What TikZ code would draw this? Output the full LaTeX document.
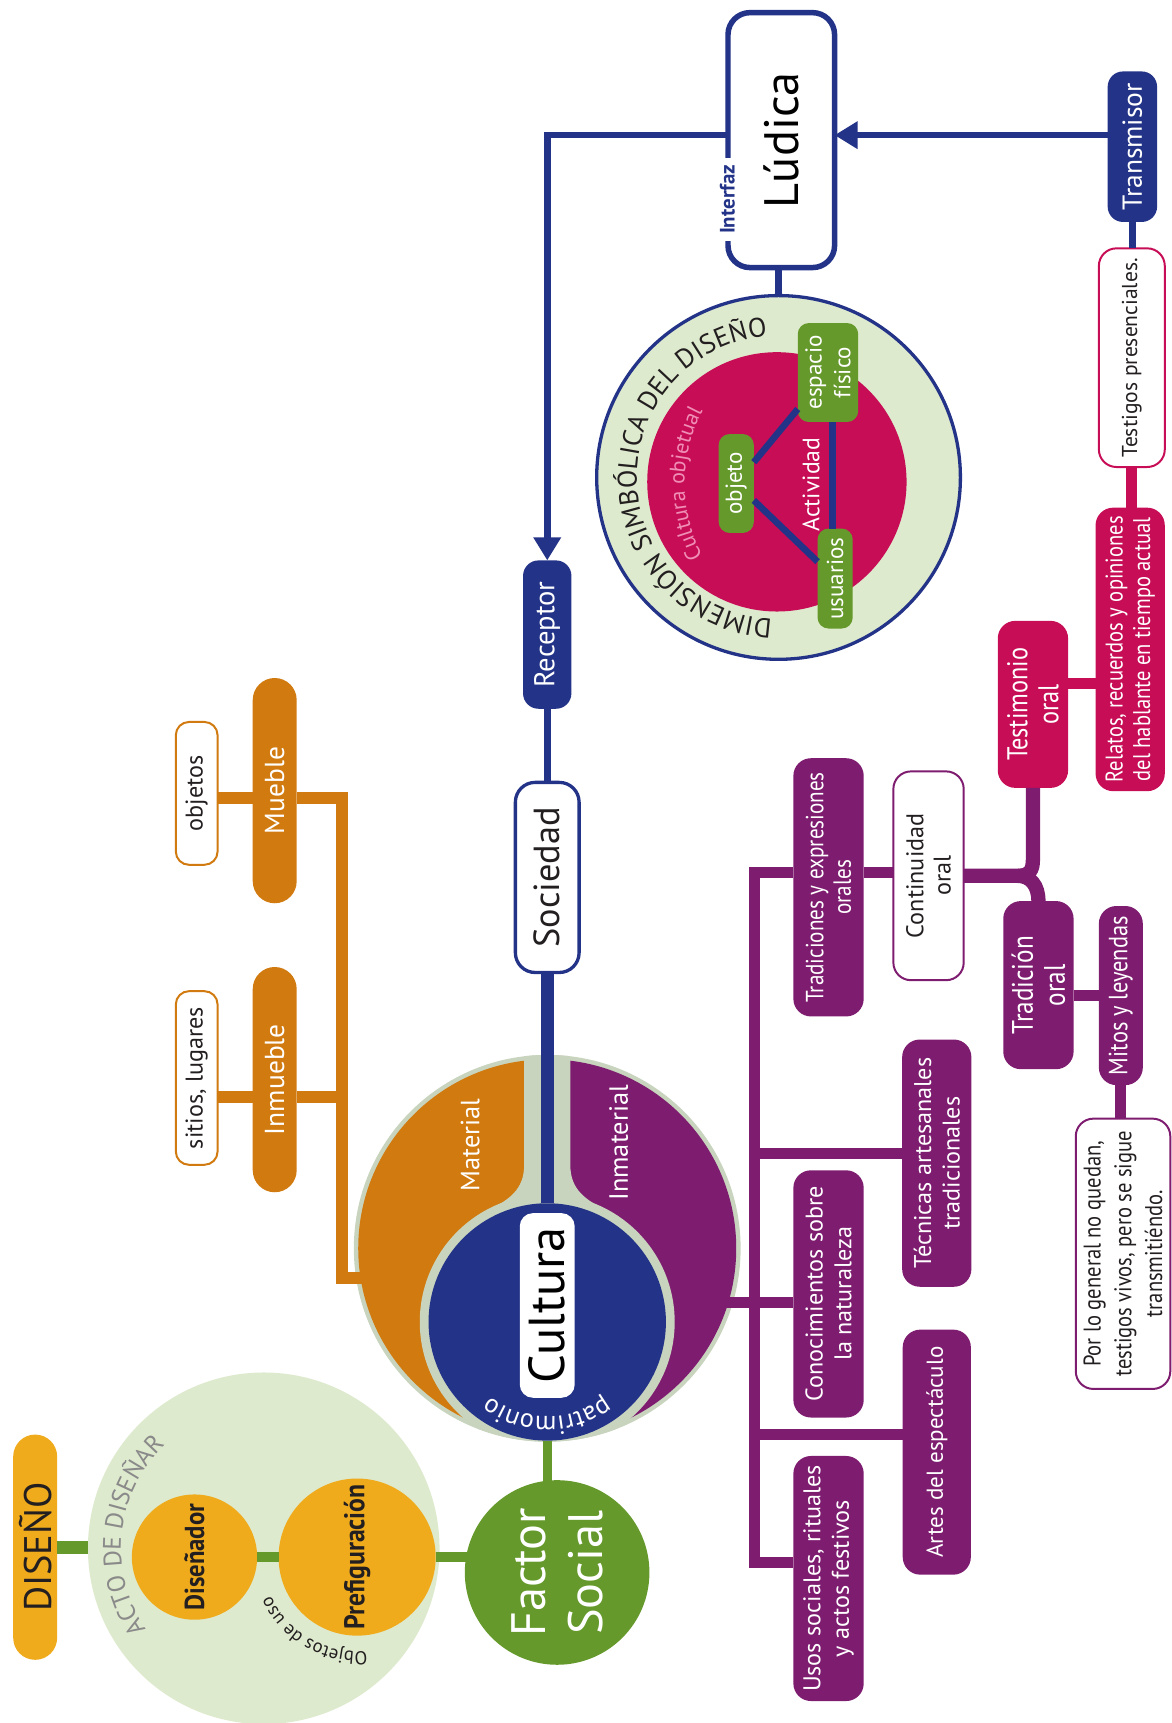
\documentclass[tikz,border=0pt]{standalone}
\usepackage{fontspec}
\setmainfont{PT Sans}
\newfontfamily\condf[FakeStretch=0.85]{PT Sans}
\newfontfamily\condbf[FakeStretch=0.9]{PT Sans}
\usetikzlibrary{decorations.text,arrows.meta,calc}
\newcommand\myfs[2]{\fontsize{#1}{#2}\selectfont}
\definecolor{gold}{HTML}{F0AB1D}
\definecolor{lgreen}{HTML}{DEEACD}
\definecolor{cgreen}{HTML}{65992B}
\definecolor{corange}{HTML}{D17A0F}
\definecolor{cring}{HTML}{C8D4BE}
\definecolor{cblue}{HTML}{233388}
\definecolor{cpurple}{HTML}{7E1C70}
\definecolor{ccrimson}{HTML}{C80D57}
\definecolor{cpink}{HTML}{F08FB6}
\definecolor{cgrey}{HTML}{8A8A8A}
\definecolor{ctext}{HTML}{231F20}
\begin{document}
\begin{tikzpicture}[x=0.5pt,y=-0.5pt,
  every node/.style={inner sep=0pt, outer sep=0pt},
  vbox/.style={rotate=90, align=center},
  fbox/.style={vbox, fill=#1, text=white, rounded corners=8pt},
  wbox/.style={vbox, fill=white, draw=#1, line width=0.9pt, text=ctext, rounded corners=8pt},
  gconn/.style={draw=cgreen, line width=#1},
  bconn/.style={draw=cblue, line width=#1},
  oconn/.style={draw=corange, line width=5.5pt},
  pconn/.style={draw=cpurple, line width=#1},
  pconn/.default=5pt,
  cconn/.style={draw=ccrimson, line width=5pt},
  tip/.style={-{Triangle[width=12pt,length=10.5pt]}},
  arctext/.style n args={3}{decorate, decoration={text along path, text={|\myfs{#1}{#1}|#3}, text color=#2, text align=center}}
]
\useasboundingbox (0,0) rectangle (1066,1568);
\clip (0,0) rectangle (1066,1568);

% ---------- coordinates used by connectors
\coordinate (yA) at (0,123);
\coordinate (yMu) at (0,726);
\coordinate (yIn) at (0,998);
\coordinate (yMat) at (0,1163);
\coordinate (xO) at (311,0);
\coordinate (matin) at (331,1163);
\coordinate (yP1) at (0,794);
\coordinate (yP2) at (0,1050);
\coordinate (yP3) at (0,1185);
\coordinate (yP4) at (0,1305);
\coordinate (yP5) at (0,1422);
\coordinate (xP) at (687,0);
\coordinate (xPin) at (660,0);
\coordinate (yJ) at (0,797);
\coordinate (yM) at (0,906);
\coordinate (yR) at (0,622);
\coordinate (vx) at (757.5,0);

% ---------- ACTO DE DISENAR
\node[circle, fill=lgreen, minimum size=160pt] (acto) at (240,1409) {};
\path[arctext={11.5}{cgrey}{ACTO DE DISEÑAR}] ([shift={(144:130)}]240,1409) arc[start angle=144, end angle=228, radius=130];
\node[fbox=gold, text=ctext, rounded corners=10pt, minimum width=102.5pt, minimum height=20pt, font=\myfs{17.5}{20}] (diseno) at (32,1408) {DISEÑO};
\node[circle, rotate=90, fill=gold, minimum size=57pt, text=ctext, font=\condbf\bfseries\myfs{12.5}{15}] (dis) at (177,1417) {Diseñador};
\node[circle, rotate=90, fill=gold, minimum size=71.5pt, text=ctext, font=\condbf\bfseries\myfs{13}{15}] (pref) at (325,1417) {Prefiguración};
\path[arctext={8.5}{ctext}{Objetos de uso}] ([shift={(82:86)}]325,1417) arc[start angle=82, end angle=158, radius=86];
\node[circle, rotate=90, fill=cgreen, minimum size=84pt, text=white, align=center, font=\myfs{22}{26}] (fs) at (507,1431) {Factor\\Social};

% ---------- CULTURA
\fill[cring] (498,1136) circle[radius=176];
\begin{scope}
  \clip (498,1136) circle[radius=172];
  \fill[corange] (300,940) rectangle (498,1320);
  \fill[cpurple] (498,940) rectangle (700,1320);
\end{scope}
\begin{scope}
  \clip (498,1136) circle[radius=176];
  \fill[cring] (477,940) -- (477,1060) .. controls (477,1083) and (463,1092) .. (443,1102) -- (498,1203) -- (553,1102) .. controls (533,1092) and (519,1083) .. (519,1060) -- (519,940) -- cycle;
  \fill[cring] (498,1203) circle[radius=116];
\end{scope}
\node[circle, fill=cblue, minimum size=108pt] (cult) at (498,1203) {};
\node[vbox, fill=white, rounded corners=6pt, minimum width=84pt, minimum height=25pt, text=black, font=\myfs{23}{26}] (cultura) at (498,1188) {Cultura};
\path[arctext={12}{white}{patrimonio}] ([shift={(52:86)}]498,1203) arc[start angle=52, end angle=128, radius=86];
\node[rotate=90, text=white, font=\myfs{12}{14}] (mat) at (428,1042) {Material};
\node[rotate=90, text=white, font=\myfs{12}{14}] (inm) at (563,1040) {Inmaterial};

% ---------- Material tree
\node[fbox=corange, rounded corners=10pt, minimum width=102.5pt, minimum height=20pt, font=\myfs{12.5}{14}] (inmb) at (250,982.5) {Inmueble};
\node[fbox=corange, rounded corners=10pt, minimum width=102.5pt, minimum height=20pt, font=\myfs{12.5}{14}] (mueb) at (250,719.5) {Mueble};
\node[wbox=corange, rounded corners=6pt, minimum width=79pt, minimum height=19pt, font=\myfs{11}{13}] (sitios) at (179,981) {sitios, lugares};
\node[wbox=corange, rounded corners=6pt, minimum width=65pt, minimum height=19pt, font=\myfs{11}{13}] (objetos) at (179,722) {objetos};
\draw[oconn] (objetos.south |- yMu) -- (mueb.north |- yMu);
\draw[oconn] (mueb.south |- yMu) -- (xO |- yMu) -- (xO |- yMat) -- (matin);
\draw[oconn] (sitios.south |- yIn) -- (inmb.north |- yIn);
\draw[oconn] (inmb.south |- yIn) -- (xO |- yIn);

% ---------- Sociedad column
\node[wbox=cblue, line width=1.5pt, rounded corners=9pt, minimum width=86.5pt, minimum height=29pt, font=\myfs{16.5}{18}] (soc) at (498,798.5) {Sociedad};
\node[fbox=cblue, rounded corners=7pt, minimum width=67.5pt, minimum height=22pt, font=\myfs{13}{15}] (rec) at (498,577.5) {Receptor};
\draw[bconn=6pt] (soc.west) -- (cult.north);
\draw[bconn=3pt] (rec.west) -- (soc.east);
\draw[gconn=4pt] (cult.south) -- ([yshift=-2pt]cult.south |- fs.east);

% ---------- green connectors
\draw[gconn=6pt] (diseno.south) -- (diseno.south -| acto.west);
\draw[gconn=4.5pt] (dis) -- (pref);
\draw[gconn=4.5pt] (pref.south) -- ([xshift=3pt]pref.south -| fs.north);

% ---------- Ludica / Transmisor
\node[vbox, fill=white, draw=cblue, line width=2.5pt, rounded corners=10pt, minimum width=116pt, minimum height=48.5pt, text=black, font=\myfs{22}{24}] (ludica) at (711,127.5) {Lúdica};
\node[rotate=90, fill=white, inner xsep=3pt, inner ysep=1pt, text=cblue, font=\bfseries\myfs{9.5}{11}] (interfaz) at (662,181.5) {Interfaz};
\node[fbox=cblue, rounded corners=7pt, minimum width=68.5pt, minimum height=22.5pt, font=\myfs{12.5}{14}] (trans) at (1030.5,133.5) {Transmisor};
\draw[bconn=3pt, tip] (ludica.north |- yA) -| (rec.east);
\draw[bconn=3pt, tip] (trans.north |- yA) -- (ludica.south |- yA);

% ---------- Dimension simbolica
\node[circle, fill=lgreen, draw=cblue, line width=1.5pt, minimum size=165.5pt] (dim) at (708.5,434.5) {};
\node[circle, fill=ccrimson, minimum size=118pt] (ocult) at (707,438.5) {};
\draw[bconn=3pt] (ludica.west -| dim.north) -- (dim.north);
\path[arctext={12.3}{ctext}{DIMENSIÓN SIMBÓLICA DEL DISEÑO}] ([shift={(92:129)}]708.5,434.5) arc[start angle=92, end angle=266, radius=129];
\path[arctext={10}{cpink}{Cultura objetual}] ([shift={(148:141)}]764,440) arc[start angle=148, end angle=212, radius=141];
\node[fbox=cgreen, rounded corners=5pt, minimum width=45pt, minimum height=16pt, font=\myfs{10.5}{13}] (objeto) at (670,440) {objeto};
\node[fbox=cgreen, rounded corners=5pt, minimum width=45pt, minimum height=27.5pt, font=\myfs{10.5}{13}] (espacio) at (753.5,339) {espacio\\físico};
\node[fbox=cgreen, rounded corners=5pt, minimum width=45.5pt, minimum height=16pt, font=\myfs{10.5}{13}] (usuarios) at (760,526.5) {usuarios};
\node[rotate=90, text=white, font=\myfs{10.8}{13}] (activ) at (738,441) {Actividad};
\draw[bconn=3pt] (objeto) -- (espacio);
\draw[bconn=3pt] (objeto) -- (usuarios);
\draw[bconn=3pt] (espacio.west -| vx) -- (usuarios.east -| vx);

% ---------- Testimonio branch
\node[wbox=ccrimson, rounded corners=8pt, minimum width=99.5pt, minimum height=30pt, font=\myfs{9.8}{11}] (testig) at (1030,325.5) {Testigos presenciales.};
\node[fbox=ccrimson, minimum width=129pt, minimum height=31.5pt, font=\condf\myfs{11}{12.5}] (rel) at (1028.5,591) {Relatos, recuerdos y opiniones\\del hablante en tiempo actual};
\node[fbox=ccrimson, minimum width=76pt, minimum height=32pt, font=\condf\myfs{13}{14}] (testi) at (940,641) {Testimonio\\oral};
\draw[bconn=3pt] (trans.west) -- (trans.west |- testig.east);
\draw[cconn] (testig.west) -- (testig.west |- rel.east);
\draw[cconn] (testi.south |- yR) -- (rel.north |- yR);

% ---------- Inmaterial tree
\node[fbox=cpurple, minimum width=117.5pt, minimum height=32pt, font=\condf\myfs{11.3}{12.5}] (trad) at (754,807.5) {Tradiciones y expresiones\\orales};
\node[fbox=cpurple, minimum width=112.5pt, minimum height=31.5pt, font=\myfs{11}{13}] (tec) at (852.5,1058.5) {Técnicas artesanales\\tradicionales};
\node[fbox=cpurple, minimum width=112.5pt, minimum height=32pt, font=\myfs{11}{13}] (con) at (754,1177.5) {Conocimientos sobre\\la naturaleza};
\node[fbox=cpurple, minimum width=111.5pt, minimum height=31pt, font=\myfs{10.5}{13}] (artes) at (852.5,1321.5) {Artes del espectáculo};
\node[fbox=cpurple, minimum width=111.5pt, minimum height=32pt, font=\myfs{11}{13}] (usos) at (754,1436.5) {Usos sociales, rituales\\y actos festivos};
\node[wbox=cpurple, minimum width=95pt, minimum height=32pt, font=\myfs{11}{12.5}] (cont) at (845,797) {Continuidad\\oral};
\node[fbox=cpurple, minimum width=76.5pt, minimum height=32pt, font=\condf\myfs{13.5}{14.5}] (trad2) at (945,896.5) {Tradición\\oral};
\node[fbox=cpurple, minimum width=81.5pt, minimum height=20pt, font=\condf\myfs{12}{14}] (mitos) at (1020,906) {Mitos y leyendas};
\node[wbox=cpurple, minimum width=123pt, minimum height=43pt, font=\condf\myfs{11}{14}] (porlo) at (1022,1141) {Por lo general no quedan,\\testigos vivos, pero se sigue\\transmitiéndo.};

\draw[pconn] (trad.north |- yP1) -- (xP |- yP1) -- (xP |- yP5) -- (usos.north |- yP5);
\draw[pconn] (xP |- yP2) -- (tec.north |- yP2);
\draw[pconn] (xPin |- yP3) -- (con.north |- yP3);
\draw[pconn] (xP |- yP4) -- (artes.north |- yP4);
\draw[pconn] (trad.south |- yP1) -- (cont.north |- yP1);
\draw[pconn=6.5pt] (cont.south |- yJ) -- (926,797) .. controls (937,797) and (940,792) .. (940,782) -- (testi.west);
\draw[pconn=6.5pt] (926,797) .. controls (938,797) and (945,806) .. (trad2.east);
\draw[pconn] (trad2.south |- yM) -- (mitos.north |- yM);
\draw[pconn] (mitos.west) -- (mitos.west |- porlo.east);
\end{tikzpicture}
\end{document}
